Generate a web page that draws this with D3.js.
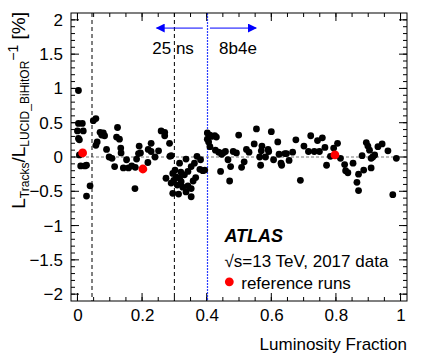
<!DOCTYPE html>
<html>
<head>
<meta charset="utf-8">
<script src="https://cdn.jsdelivr.net/npm/d3@7"></script>
<style>
  body { margin: 0; background: #fff; }
  text { font-family: "Liberation Sans", Arial, sans-serif; }
</style>
</head>
<body>
<div id="chart"></div>
<script>
// Luminosity fraction and deviation (%) for each run
const runFraction = [
  0.003, 0.003, 0.015, 0.0, 0.018, 0.003, 0.006, 0.006, 0.01, 0.023, 0.028, 0.039, 0.028,
  0.049, 0.057, 0.07, 0.08, 0.084, 0.075, 0.061, 0.057, 0.09, 0.098, 0.107, 0.115, 0.124,
  0.121, 0.13, 0.134, 0.135, 0.142, 0.152, 0.158, 0.168, 0.179, 0.183, 0.189, 0.178, 0.191,
  0.195, 0.219, 0.228, 0.228, 0.24, 0.251, 0.218, 0.259, 0.27, 0.27, 0.285, 0.286, 0.274,
  0.29, 0.316, 0.336, 0.37, 0.381, 0.362, 0.352, 0.342, 0.331, 0.302, 0.295, 0.298, 0.316,
  0.321, 0.309, 0.29, 0.326, 0.342, 0.352, 0.336, 0.295, 0.313, 0.352, 0.379, 0.388, 0.394,
  0.305, 0.32, 0.366, 0.358,
  0.402, 0.41, 0.415, 0.425, 0.43, 0.402, 0.406, 0.41, 0.427, 0.437, 0.446, 0.451, 0.458,
  0.443, 0.466, 0.474, 0.471, 0.482, 0.492, 0.499, 0.516, 0.508, 0.523, 0.531, 0.547, 0.554,
  0.571, 0.569, 0.564, 0.567, 0.582, 0.59, 0.592, 0.6, 0.607, 0.62, 0.624, 0.63, 0.632,
  0.642, 0.647, 0.655, 0.666, 0.676, 0.69, 0.701, 0.715, 0.722, 0.733, 0.749, 0.743, 0.758,
  0.766, 0.771, 0.783, 0.793, 0.805, 0.814, 0.827, 0.83, 0.837, 0.853, 0.865, 0.87, 0.87,
  0.881, 0.886, 0.894, 0.899, 0.904, 0.909, 0.914, 0.92, 0.909, 0.93, 0.943, 0.961, 0.987,
  0.976
];
const runDeviation = [
  0.97, 0.49, 0.49, 0.38, 0.38, 0.27, 0.25, 0.03, -0.13, -0.13, -0.12, -0.42, -0.57,
  0.53, 0.56, 0.36, 0.35, 0.31, 0.32, 0.22, 0.17, 0.11, 0.0, -0.02, -0.14, 0.43,
  0.29, 0.26, 0.13, 0.06, -0.16, -0.04, -0.16, -0.13, -0.15, -0.03, 0.05, -0.46, 0.16,
  0.06, 0.11, 0.2, 0.08, 0.0, 0.09, -0.08, 0.38, 0.36, 0.31, 0.2, 0.01, -0.31,
  0.02, -0.09, -0.03, 0.01, -0.04, -0.09, -0.14, -0.21, -0.26, -0.19, -0.24, -0.34, -0.31,
  -0.36, -0.41, -0.38, -0.44, -0.42, -0.46, -0.51, -0.53, -0.54, -0.58, -0.18, -0.2, -0.19,
  -0.29, -0.22, -0.3, -0.35,
  0.35, 0.32, 0.3, 0.31, 0.29, 0.26, 0.22, 0.15, 0.1, 0.07, 0.04, 0.06, 0.08,
  -0.21, -0.04, -0.14, -0.35, 0.08, 0.06, 0.32, -0.07, -0.15, 0.11, 0.07, 0.19, 0.41,
  0.16, 0.09, 0.0, -0.12, 0.0, 0.11, 0.08, 0.37, -0.04, 0.22, 0.04, -0.09, -0.12,
  0.05, 0.05, -0.05, 0.07, 0.25, -0.34, 0.16, 0.08, 0.31, 0.08, 0.08, 0.24, 0.28,
  0.14, -0.12, 0.01, 0.13, 0.2, -0.02, -0.11, -0.2, -0.23, -0.09, -0.37, -0.49, -0.25,
  0.02, -0.19, 0.21, 0.16, 0.1, -0.02, 0.0, 0.03, -0.16, 0.15, 0.19, 0.09, -0.02,
  -0.55
];

// Reference runs (red)
const refFraction = [0.016, 0.2025, 0.797];
const refDeviation = [0.06, -0.175, 0.03];

// Dashed period boundaries and the 25ns / 8b4e switch
const periodLines = [0.045, 0.3];
const schemeSwitch = 0.4;

const yTicks = [-2, -1.5, -1, -0.5, 0, 0.5, 1, 1.5, 2];
const xTicks = [0, 0.2, 0.4, 0.6, 0.8, 1];

// Frame
const margin = { top: 13, right: 18, bottom: 61, left: 71 };
const width = 425 - margin.left - margin.right;
const height = 362 - margin.top - margin.bottom;

const svg = d3.select("#chart")
  .append("svg")
  .attr("width", 425)
  .attr("height", 362);

const g = svg.append("g")
  .attr("transform", `translate(${margin.left},${margin.top})`);

const x = d3.scaleLinear().domain([-0.02, 1.02]).range([0, width]);
const y = d3.scaleLinear().domain([-2.1, 2.1]).range([height, 0]);

// Minor and major ticks, drawn inward on all four sides
const xMinor = d3.range(0, 1.0001, 0.05);
const yMinor = d3.range(-2, 2.0001, 0.1);

function tickLines(sel, vals, isMajor, side) {
  const len = isMajor ? 8 : 4;
  vals.forEach(v => {
    if (side === "bottom") sel.append("line").attr("x1", x(v)).attr("x2", x(v)).attr("y1", height).attr("y2", height - len);
    if (side === "top") sel.append("line").attr("x1", x(v)).attr("x2", x(v)).attr("y1", 0).attr("y2", len);
    if (side === "left") sel.append("line").attr("x1", 0).attr("x2", len).attr("y1", y(v)).attr("y2", y(v));
    if (side === "right") sel.append("line").attr("x1", width).attr("x2", width - len).attr("y1", y(v)).attr("y2", y(v));
  });
}

const ticks = g.append("g").attr("stroke", "#000").attr("stroke-width", 1);
["bottom", "top"].forEach(s => {
  tickLines(ticks, xMinor, false, s);
  tickLines(ticks, xTicks, true, s);
});
["left", "right"].forEach(s => {
  tickLines(ticks, yMinor, false, s);
  tickLines(ticks, yTicks, true, s);
});

// Tick labels via axis generators (no tick lines of their own)
const fmt = d => (d < 0 ? "\u2212" : "") + Math.abs(d);
g.append("g")
  .attr("transform", `translate(0,${height})`)
  .call(d3.axisBottom(x).tickValues(xTicks).tickSize(0).tickPadding(8).tickFormat(fmt))
  .call(a => a.select(".domain").remove())
  .selectAll("text").attr("font-size", 17).attr("fill", "#000");

g.append("g")
  .call(d3.axisLeft(y).tickValues(yTicks).tickSize(0).tickPadding(8).tickFormat(fmt))
  .call(a => a.select(".domain").remove())
  .selectAll("text").attr("font-size", 17).attr("fill", "#000");

// Zero reference line
g.append("line")
  .attr("x1", 0).attr("x2", width)
  .attr("y1", y(0)).attr("y2", y(0))
  .attr("stroke", "#777").attr("stroke-width", 1)
  .attr("stroke-dasharray", "3,2");

// Vertical dashed lines
g.selectAll(".period")
  .data(periodLines)
  .join("line")
  .attr("class", "period")
  .attr("x1", d => x(d)).attr("x2", d => x(d))
  .attr("y1", 0).attr("y2", height)
  .attr("stroke", "#000").attr("stroke-width", 1)
  .attr("stroke-dasharray", "4,3");

g.append("line")
  .attr("x1", Math.round(x(schemeSwitch)) + 0.5).attr("x2", Math.round(x(schemeSwitch)) + 0.5)
  .attr("y1", 0).attr("y2", height)
  .attr("stroke", "#2a3cff").attr("stroke-width", 1.2)
  .attr("stroke-dasharray", "2,1");

// Arrows for the bunch schemes
const defs = svg.append("defs");
defs.append("marker")
  .attr("id", "arrow")
  .attr("viewBox", "0 0 10 10")
  .attr("refX", 9).attr("refY", 5)
  .attr("markerWidth", 10).attr("markerHeight", 9)
  .attr("markerUnits", "userSpaceOnUse")
  .attr("orient", "auto")
  .append("path")
  .attr("d", "M0,0 L10,5 L0,10 z")
  .attr("fill", "#0000ff");

const arrowY = 1.88;
g.append("line")
  .attr("x1", x(0.388)).attr("x2", x(0.245))
  .attr("y1", y(arrowY)).attr("y2", y(arrowY))
  .attr("stroke", "#0000ff").attr("marker-end", "url(#arrow)");
g.append("line")
  .attr("x1", x(0.41)).attr("x2", x(0.553))
  .attr("y1", y(arrowY)).attr("y2", y(arrowY))
  .attr("stroke", "#0000ff").attr("marker-end", "url(#arrow)");

g.append("text")
  .attr("x", x(0.296)).attr("y", y(1.5))
  .attr("text-anchor", "middle").attr("font-size", 17)
  .text("25 ns");
g.append("text")
  .attr("x", x(0.497)).attr("y", y(1.5))
  .attr("text-anchor", "middle").attr("font-size", 17)
  .text("8b4e");

// Points
const runs = runFraction.map((f, i) => ({ f: f, d: runDeviation[i] }));
g.selectAll(".run")
  .data(runs)
  .join("circle")
  .attr("class", "run")
  .attr("cx", d => x(d.f))
  .attr("cy", d => y(d.d))
  .attr("r", 3.4)
  .attr("fill", "#000");

const refs = refFraction.map((f, i) => ({ f: f, d: refDeviation[i] }));
g.selectAll(".ref")
  .data(refs)
  .join("circle")
  .attr("class", "ref")
  .attr("cx", d => x(d.f))
  .attr("cy", d => y(d.d))
  .attr("r", 4.4)
  .attr("fill", "#ff0000");

// Frame
g.append("rect")
  .attr("width", width).attr("height", height)
  .attr("fill", "none").attr("stroke", "#000").attr("stroke-width", 1);

// Labels and legend
g.append("text")
  .attr("x", x(0.455)).attr("y", y(-1.24))
  .attr("font-size", 18).attr("font-weight", "bold").attr("font-style", "italic")
  .text("ATLAS");

g.append("text")
  .attr("x", x(0.455)).attr("y", y(-1.6))
  .attr("font-size", 17)
  .text("\u221As=13 TeV, 2017 data");

g.append("circle")
  .attr("cx", x(0.47)).attr("cy", y(-1.82))
  .attr("r", 4.4).attr("fill", "#ff0000");
g.append("text")
  .attr("x", x(0.507)).attr("y", y(-1.93))
  .attr("font-size", 17)
  .text("reference runs");

// Axis titles
svg.append("text")
  .attr("x", margin.left + width).attr("y", 350)
  .attr("text-anchor", "end").attr("font-size", 17)
  .text("Luminosity Fraction");

const yt = svg.append("text")
  .attr("transform", "translate(25,12) rotate(-90)")
  .attr("text-anchor", "end").attr("font-size", 19);
yt.append("tspan").text("L");
yt.append("tspan").attr("font-size", 12).attr("dy", 4).text("Tracks");
yt.append("tspan").attr("dy", -4).text("/L");
yt.append("tspan").attr("font-size", 12).attr("dy", 4).text("LUCID_BiHitOR");
yt.append("tspan").attr("font-size", 14).attr("dy", -11).text("\u22121");
yt.append("tspan").attr("dy", 7).text(" [%]");
</script>
</body>
</html>
